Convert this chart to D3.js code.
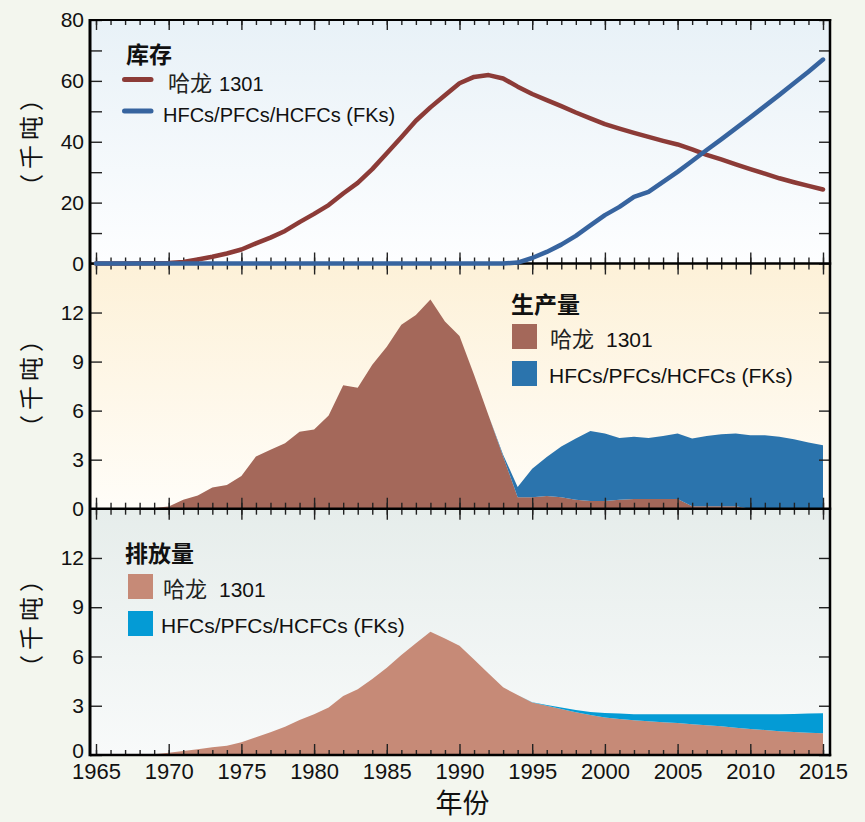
<!DOCTYPE html>
<html>
<head>
<meta charset="utf-8">
<script src="https://cdn.jsdelivr.net/npm/d3@7"></script>
<style>
  html, body { margin: 0; padding: 0; background: #f3f6ee; }
  svg { display: block; }
  text { font-family: "Liberation Sans", Arial, "Noto Sans CJK SC", sans-serif; fill: #111; }
  .cjk { font-family: "Noto Sans CJK SC", sans-serif; }
</style>
</head>
<body>
<svg id="chart" width="865" height="822"></svg>
<script>
// Years covered by every series
const years = d3.range(1965, 2016);

// Bank (thousand tonnes)
const halonBank = [0, 0, 0, 0.05, 0.1, 0.2, 0.5, 1.3, 2.2, 3.3,
  4.6, 6.6, 8.5, 10.7, 13.6, 16.3, 19.2, 23.0, 26.5, 31.0,
  36.2, 41.5, 46.9, 51.3, 55.3, 59.2, 61.3, 61.9, 60.8, 58.1,
  55.7, 53.7, 51.7, 49.6, 47.7, 45.8, 44.3, 42.9, 41.6, 40.3,
  39.1, 37.5, 35.7, 34.2, 32.6, 31.0, 29.5, 28.0, 26.7, 25.5, 24.3];
const fkBank = [0, 0, 0, 0, 0, 0, 0, 0, 0, 0,
  0, 0, 0, 0, 0, 0, 0, 0, 0, 0,
  0, 0, 0, 0, 0, 0, 0, 0, 0, 0.3,
  1.8, 3.8, 6.2, 9.1, 12.5, 15.9, 18.6, 21.9, 23.5, 26.8,
  30.1, 33.7, 37.3, 40.8, 44.4, 48.0, 51.7, 55.4, 59.2, 63.0, 67.0];

// Production (thousand tonnes)
const halonProd = [0, 0, 0, 0.02, 0.05, 0.14, 0.55, 0.8, 1.3, 1.45,
  2.0, 3.2, 3.6, 4.0, 4.7, 4.85, 5.7, 7.55, 7.4, 8.8,
  9.9, 11.25, 11.85, 12.8, 11.45, 10.57, 8.2, 5.7, 3.2, 0.7,
  0.7, 0.77, 0.7, 0.55, 0.47, 0.47, 0.55, 0.6, 0.6, 0.6,
  0.6, 0.15, 0.15, 0.15, 0.15, 0, 0, 0, 0, 0, 0];
const fkProd = [0, 0, 0, 0, 0, 0, 0, 0, 0, 0,
  0, 0, 0, 0, 0, 0, 0, 0, 0, 0,
  0, 0, 0, 0, 0, 0, 0, 0, 0.1, 0.63,
  1.75, 2.4, 3.1, 3.75, 4.29, 4.13, 3.78, 3.8, 3.73, 3.84,
  4.0, 4.15, 4.29, 4.41, 4.45, 4.5, 4.5, 4.4, 4.25, 4.05, 3.88];

// Emissions (thousand tonnes)
const halonEmis = [0, 0, 0, 0, 0.05, 0.14, 0.24, 0.35, 0.47, 0.57,
  0.77, 1.08, 1.38, 1.72, 2.13, 2.48, 2.9, 3.59, 4.0, 4.63,
  5.32, 6.09, 6.8, 7.5, 7.1, 6.65, 5.82, 4.97, 4.12, 3.65,
  3.2, 3.0, 2.8, 2.6, 2.43, 2.29, 2.19, 2.11, 2.05, 1.99,
  1.95, 1.87, 1.81, 1.75, 1.66, 1.58, 1.52, 1.44, 1.4, 1.36, 1.32];
const fkEmis = [0, 0, 0, 0, 0, 0, 0, 0, 0, 0,
  0, 0, 0, 0, 0, 0, 0, 0, 0, 0,
  0, 0, 0, 0, 0, 0, 0, 0, 0, 0,
  0.02, 0.05, 0.09, 0.14, 0.19, 0.27, 0.33, 0.37, 0.43, 0.49,
  0.53, 0.61, 0.67, 0.73, 0.82, 0.9, 0.96, 1.04, 1.1, 1.16, 1.22];

// Axis ticks and labels
const xLabelYears = [1965, 1970, 1975, 1980, 1985, 1990, 1995, 2000, 2005, 2010, 2015];
const bankTicks = [0, 10, 20, 30, 40, 50, 60, 70, 80];
const bankLabels = [0, 20, 40, 60, 80];
const tonTicks = [0, 3, 6, 9, 12];

const halonName = "哈龙";
const halonCode = "1301";
const fkName = "HFCs/PFCs/HCFCs (FKs)";
const unitLabel = "（千吨）";
const xTitle = "年份";

// ---- layout ----
const svg = d3.select("#chart");
const frameL = 90, frameR = 830;
const x = d3.scaleLinear().domain([1965, 2015]).range([96, 823]);

const panels = [
  { top: 20, bottom: 263.5, max: 80, grad: ["#e8f1f7", "#fdfeff"], title: "库存" },
  { top: 263.5, bottom: 508.7, max: 15, grad: ["#fdf1d8", "#fffdf8"], title: "生产量" },
  { top: 508.7, bottom: 755, max: 15, grad: ["#e6edeb", "#f8fafa"], title: "排放量" }
];
panels.forEach(p => { p.y = d3.scaleLinear().domain([0, p.max]).range([p.bottom, p.top]); });

const defs = svg.append("defs");
panels.forEach((p, i) => {
  const g = defs.append("linearGradient").attr("id", "bg" + i)
    .attr("x1", 0).attr("y1", 0).attr("x2", 0).attr("y2", 1);
  g.append("stop").attr("offset", "0%").attr("stop-color", p.grad[0]);
  g.append("stop").attr("offset", "100%").attr("stop-color", p.grad[1]);
  svg.append("rect")
    .attr("x", frameL).attr("y", p.top)
    .attr("width", frameR - frameL).attr("height", p.bottom - p.top)
    .attr("fill", `url(#bg${i})`);
});

// ---- stacked areas (production, emissions) ----
function stackedArea(panel, a, b, colors) {
  const rows = years.map((yr, i) => ({ year: yr, a: a[i], b: b[i] }));
  const series = d3.stack().keys(["a", "b"])(rows);
  const area = d3.area()
    .x(d => x(d.data.year))
    .y0(d => panel.y(d[0]))
    .y1(d => panel.y(d[1]));
  svg.append("g").selectAll("path").data(series).join("path")
    .attr("d", area)
    .attr("fill", (d, i) => colors[i]);
}
stackedArea(panels[1], halonProd, fkProd, ["#a4685a", "#2b74ad"]);
stackedArea(panels[2], halonEmis, fkEmis, ["#c68a77", "#049bd5"]);

// ---- ticks ----
const tickColor = "#222";
function styleAxis(g) {
  g.select(".domain").remove();
  g.selectAll(".tick line").attr("stroke", tickColor).attr("stroke-width", 1.4);
  g.selectAll(".tick text").attr("fill", "#111");
}
function xTicks(yPos, dir, minorLen, majorLen) {
  const make = dir === "up" ? d3.axisTop : d3.axisBottom;
  svg.append("g").attr("transform", `translate(0,${yPos})`)
    .call(make(x).tickValues(years).tickSize(minorLen).tickFormat(""))
    .call(styleAxis);
  svg.append("g").attr("transform", `translate(0,${yPos})`)
    .call(make(x).tickValues(xLabelYears).tickSize(majorLen).tickFormat(""))
    .call(styleAxis);
}
// top edge of upper panel
xTicks(panels[0].top, "down", 5, 10);
// shared edges: ticks on both sides
xTicks(panels[0].bottom, "up", 6, 11);
xTicks(panels[1].top, "down", 6, 11);
xTicks(panels[1].bottom, "up", 6, 11);
xTicks(panels[2].top, "down", 6, 11);
// bottom edge
xTicks(panels[2].bottom, "up", 5, 11);

// x labels
svg.append("g").attr("transform", `translate(0,${panels[2].bottom})`)
  .call(d3.axisBottom(x).tickValues(xLabelYears).tickSize(0).tickPadding(8).tickFormat(d3.format("d")))
  .call(styleAxis)
  .call(g => g.selectAll("text").style("font-size", "22px"));

// y axes
panels.forEach((p, i) => {
  const ticks = i === 0 ? bankTicks : tonTicks;
  const fmt = i === 0 ? (d => bankLabels.includes(d) ? d : "") : (d => d);
  const ax = svg.append("g").attr("transform", `translate(${frameL},0)`)
    .call(d3.axisLeft(p.y).tickValues(ticks).tickSize(-12).tickPadding(6).tickFormat(fmt))
    .call(styleAxis)
    .call(g => g.selectAll("text").style("font-size", "21px"));
  // the lowest zero sits just above the year labels
  if (i === panels.length - 1) {
    ax.selectAll(".tick text").filter(d => d === 0).attr("transform", "translate(0,-4)");
  }
  svg.append("g").attr("transform", `translate(${frameR},0)`)
    .call(d3.axisLeft(p.y).tickValues(ticks).tickSize(11).tickFormat(""))
    .call(styleAxis);
});

// ---- frame ----
const frame = svg.append("g").attr("stroke", "#000").attr("fill", "none");
frame.append("line").attr("x1", frameL).attr("x2", frameR + 1.2).attr("y1", panels[0].top).attr("y2", panels[0].top).attr("stroke-width", 2.2);
panels.forEach(p => {
  frame.append("line").attr("x1", frameL).attr("x2", frameR + 1.2).attr("y1", p.bottom).attr("y2", p.bottom).attr("stroke-width", 2.6);
});
frame.append("line").attr("x1", frameL).attr("x2", frameL).attr("y1", panels[0].top - 1).attr("y2", panels[2].bottom + 1.3).attr("stroke-width", 3);
frame.append("line").attr("x1", frameR).attr("x2", frameR).attr("y1", panels[0].top - 1).attr("y2", panels[2].bottom + 1.3).attr("stroke-width", 2.5);

// ---- bank lines ----
const bankLine = d3.line().x((d, i) => x(years[i])).y(d => panels[0].y(d));
svg.append("path").attr("d", bankLine(halonBank))
  .attr("fill", "none").attr("stroke", "#8c3b37").attr("stroke-width", 4.5)
  .attr("stroke-linejoin", "round").attr("stroke-linecap", "round");
svg.append("path").attr("d", bankLine(fkBank))
  .attr("fill", "none").attr("stroke", "#37649f").attr("stroke-width", 4.5)
  .attr("stroke-linejoin", "round").attr("stroke-linecap", "round");

// ---- legends ----
function halonText(g, tx, ty, gap, size) {
  const t = g.append("text").attr("x", tx).attr("y", ty).style("font-size", size + "px");
  t.append("tspan").attr("class", "cjk").style("font-size", "22px").attr("fill", "#222").text(halonName);
  t.append("tspan").attr("dx", gap).text(halonCode);
}
// bank legend
{
  const g = svg.append("g");
  g.append("text").attr("class", "cjk").attr("x", 126).attr("y", 63)
    .style("font-size", "23px").style("font-weight", "bold").text(panels[0].title);
  g.append("line").attr("x1", 124.5).attr("x2", 151).attr("y1", 79.5).attr("y2", 79.5)
    .attr("stroke", "#8c3b37").attr("stroke-width", 5).attr("stroke-linecap", "round");
  halonText(g, 168, 91, 7, 20);
  g.append("line").attr("x1", 124.5).attr("x2", 151).attr("y1", 111).attr("y2", 111)
    .attr("stroke", "#37649f").attr("stroke-width", 5).attr("stroke-linecap", "round");
  g.append("text").attr("x", 163).attr("y", 122).style("font-size", "20px").text(fkName);
}
// production legend
{
  const g = svg.append("g");
  g.append("text").attr("class", "cjk").attr("x", 511).attr("y", 313)
    .style("font-size", "23px").style("font-weight", "bold").text(panels[1].title);
  g.append("rect").attr("x", 512).attr("y", 324).attr("width", 25).attr("height", 25).attr("fill", "#a4685a");
  halonText(g, 550, 347, 12, 21);
  g.append("rect").attr("x", 512).attr("y", 361).attr("width", 25).attr("height", 25).attr("fill", "#2b74ad");
  g.append("text").attr("x", 549).attr("y", 383).style("font-size", "21px").text(fkName);
}
// emissions legend
{
  const g = svg.append("g");
  g.append("text").attr("class", "cjk").attr("x", 125).attr("y", 562)
    .style("font-size", "23px").style("font-weight", "bold").text(panels[2].title);
  g.append("rect").attr("x", 128).attr("y", 574).attr("width", 25).attr("height", 25).attr("fill", "#c68a77");
  halonText(g, 163, 597, 12, 21);
  g.append("rect").attr("x", 128).attr("y", 611).attr("width", 25).attr("height", 25).attr("fill", "#049bd5");
  g.append("text").attr("x", 161).attr("y", 633).style("font-size", "21px").text(fkName);
}

// ---- axis titles ----
const unitCenters = [140, 381, 621];
unitCenters.forEach(cy => {
  svg.append("text").attr("class", "cjk")
    .attr("transform", `translate(29,${cy}) rotate(-90)`)
    .attr("text-anchor", "middle").attr("dominant-baseline", "central")
    .style("font-size", "24px").style("letter-spacing", "5px")
    .attr("fill", "#333").text(unitLabel);
});
svg.append("text").attr("class", "cjk")
  .attr("x", (x.range()[0] + x.range()[1]) / 2 + 3).attr("y", 813)
  .attr("text-anchor", "middle").style("font-size", "27px").attr("fill", "#333").text(xTitle);
</script>
</body>
</html>
